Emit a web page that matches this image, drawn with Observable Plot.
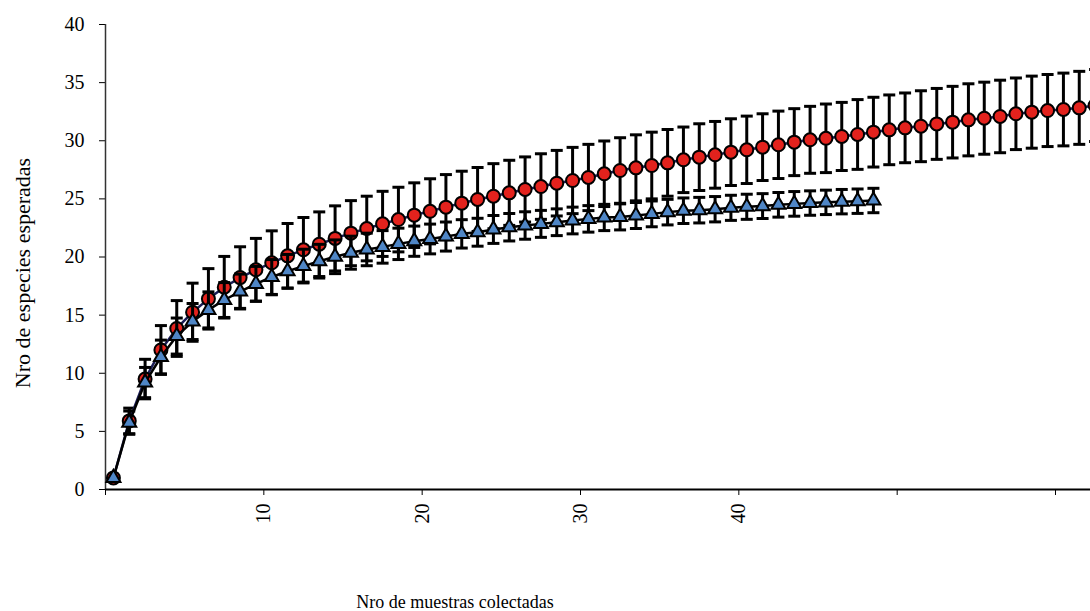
<!DOCTYPE html>
<html>
<head>
<meta charset="utf-8">
<script src="https://cdn.jsdelivr.net/npm/d3@7"></script>
<script src="https://cdn.jsdelivr.net/npm/@observablehq/plot@0.6"></script>
<style>
  html, body { margin: 0; padding: 0; background: #fff; overflow: hidden; }
  #chart svg { overflow: hidden; }
</style>
</head>
<body>
<div id="chart"></div>
<script>
// Series 1 (red circles): expected species per number of samples
const redValues = [
  1.0, 5.9, 9.5, 12.0, 13.85, 15.25, 16.4, 17.4, 18.23, 18.9,
  19.5, 20.1, 20.62, 21.1, 21.6, 22.05, 22.45, 22.85, 23.22, 23.6,
  23.93, 24.29, 24.63, 24.95, 25.23, 25.52, 25.81, 26.06, 26.35, 26.58,
  26.84, 27.16, 27.44, 27.67, 27.87, 28.1, 28.36, 28.59, 28.79, 29.02,
  29.22, 29.45, 29.65, 29.88, 30.08, 30.21, 30.37, 30.54, 30.74, 30.94,
  31.11, 31.25, 31.45, 31.6, 31.8, 31.94, 32.09, 32.32, 32.46, 32.6,
  32.69, 32.83, 33.03
];
const redErrors = [
  0, 1.1, 1.7, 2.1, 2.4, 2.5, 2.6, 2.65, 2.65, 2.7,
  2.75, 2.78, 2.78, 2.78, 2.8, 2.8, 2.78, 2.8, 2.78, 2.78,
  2.8, 2.8, 2.75, 2.75, 2.8, 2.8, 2.8, 2.82, 2.82, 2.85,
  2.85, 2.82, 2.82, 2.84, 2.87, 2.87, 2.82, 2.87, 2.87, 2.87,
  2.9, 2.87, 2.9, 2.88, 2.88, 2.95, 2.93, 3.0, 3.0, 3.0,
  3.0, 3.05, 3.05, 3.08, 3.1, 3.1, 3.12, 3.08, 3.1, 3.1,
  3.13, 3.14, 3.1
];
// Series 2 (blue triangles)
const blueValues = [
  1.0, 5.75, 9.2, 11.4, 13.2, 14.45, 15.45, 16.3, 17.03, 17.69,
  18.28, 18.77, 19.22, 19.64, 20.02, 20.37, 20.65, 20.87, 21.13, 21.36,
  21.55, 21.76, 21.99, 22.13, 22.37, 22.56, 22.71, 22.85, 22.99, 23.14,
  23.28, 23.4, 23.45, 23.57, 23.71, 23.86, 23.98, 24.03, 24.11, 24.23,
  24.32, 24.38, 24.49, 24.57, 24.64, 24.7, 24.76, 24.8, 24.86
];
const blueErrors = [
  0, 1.0, 1.3, 1.45, 1.55, 1.55, 1.55, 1.5, 1.5, 1.5,
  1.5, 1.45, 1.45, 1.45, 1.45, 1.42, 1.4, 1.4, 1.35, 1.3,
  1.28, 1.25, 1.22, 1.2, 1.2, 1.18, 1.18, 1.16, 1.15, 1.15,
  1.14, 1.13, 1.12, 1.12, 1.11, 1.1, 1.1, 1.1, 1.09, 1.08,
  1.08, 1.07, 1.06, 1.06, 1.05, 1.05, 1.05, 1.05, 1.05
];
const xTickValues = [0, 10, 20, 30, 40, 50, 60];
const xTickLabels = ["", "10", "20", "30", "40", "", ""];
const yTickValues = [0, 5, 10, 15, 20, 25, 30, 35, 40];
const xTitle = "Nro de muestras colectadas";
const yTitle = "Nro de especies esperadas";

const toRows = (vals, errs) => vals.map((v, i) => ({n: i + 1, v, lo: v - errs[i], hi: v + errs[i], e: errs[i]}));
const red = toRows(redValues, redErrors);
const blue = toRows(blueValues, blueErrors);
const xpos = d => d.n - 0.5; // category centre (categories sit between tick marks)

const capSymbol = {
  draw(context, size) {
    const w = Math.sqrt(size / Math.PI);
    context.moveTo(-w, 0);
    context.lineTo(w, 0);
  }
};

function errorMarks(rows) {
  const withErr = rows.filter(d => d.e > 0);
  return [
    Plot.ruleX(withErr, {x: xpos, y1: "lo", y2: "hi", stroke: "black", strokeWidth: 3}),
    Plot.dot(withErr, {x: xpos, y: "hi", symbol: capSymbol, r: 6, stroke: "black", strokeWidth: 3, fill: "none"}),
    Plot.dot(withErr, {x: xpos, y: "lo", symbol: capSymbol, r: 6, stroke: "black", strokeWidth: 3, fill: "none"})
  ];
}

const chart = Plot.plot({
  width: 1090,
  height: 611,
  marginLeft: 105,
  marginRight: 0,
  marginTop: 24,
  marginBottom: 122,
  style: {fontFamily: "'Liberation Serif', 'Times New Roman', serif", color: "black", background: "white"},
  x: {domain: [0, 62.21], axis: null},
  y: {domain: [0, 40], axis: null},
  marks: [
    Plot.axisY({ticks: yTickValues, tickSize: 6, tickPadding: 15, fontSize: 20, label: null, stroke: "black"}),
    Plot.axisX({ticks: xTickValues, tickFormat: (d, i) => xTickLabels[i], tickRotate: -90, tickSize: 6, tickPadding: 8, fontSize: 20, label: null, stroke: "black"}),
    Plot.ruleX([0], {stroke: "#333", strokeWidth: 1.5}),
    Plot.ruleY([0], {stroke: "black", strokeWidth: 2}),
    ...errorMarks(red),
    Plot.line(red, {x: xpos, y: "v", stroke: "#1b1d55", strokeWidth: 2.5}),
    Plot.dot(red, {x: xpos, y: "v", symbol: "circle", r: 6.5, fill: "#e3221d", stroke: "black", strokeWidth: 2}),
    ...errorMarks(blue),
    Plot.line(blue, {x: xpos, y: "v", stroke: "black", strokeWidth: 2.5}),
    Plot.dot(blue, {x: xpos, y: "v", symbol: "triangle", r: 5.2, fill: "#4f86c6", stroke: "black", strokeWidth: 2}),
    Plot.text([xTitle], {frameAnchor: "bottom-left", text: d => d, textAnchor: "middle", lineAnchor: "bottom", dx: 349.5, dy: 118, fontSize: 18}),
    Plot.text([yTitle], {frameAnchor: "left", text: d => d, rotate: -90, textAnchor: "middle", dx: -83, dy: 16, fontSize: 22})
  ]
});
document.getElementById("chart").appendChild(chart);
</script>
</body>
</html>
